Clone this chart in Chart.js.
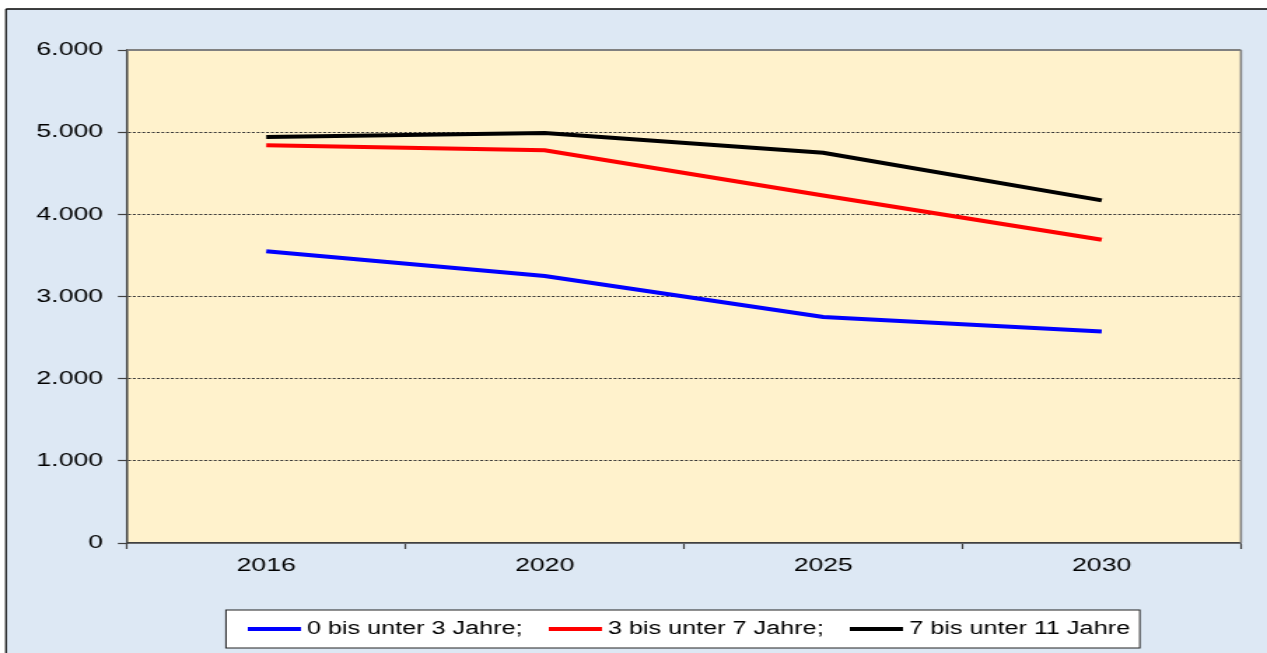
<!DOCTYPE html>
<html>
<head>
<meta charset="utf-8">
<script src="https://cdn.jsdelivr.net/npm/chart.js@4.4.1/dist/chart.umd.min.js"></script>
<style>
  html, body { margin: 0; padding: 0; background: #ffffff; overflow: hidden; }
  #wrap { position: absolute; left: 0; top: 0; width: 905px; height: 653px; transform: scaleX(1.4); transform-origin: 0 0; }
  canvas { display: block; }
</style>
</head>
<body>
<div id="wrap"><canvas id="c" width="905" height="653"></canvas></div>
<script>
// ---- data ----
const categories = ['2016', '2020', '2025', '2030'];
const seriesNames = ['0 bis unter 3 Jahre;', '3 bis unter 7 Jahre;', '7 bis unter 11 Jahre'];
const age0to3 = [3550, 3250, 2750, 2575];
const age3to7 = [4840, 4780, 4230, 3690];
const age7to11 = [4940, 4990, 4750, 4170];
const yTickLabels = ['0', '1.000', '2.000', '3.000', '4.000', '5.000', '6.000'];

// ---- layout constants (canvas is stretched horizontally by S) ----
const S = 1.4;
const FONT = '"Liberation Sans", Arial, sans-serif';
const colors = ['#0000ff', '#ff0000', '#000000'];

function lineImage(color) {
  const c = document.createElement('canvas');
  c.width = 38; c.height = 4;
  const g = c.getContext('2d');
  g.fillStyle = color; g.fillRect(0, 0, 38, 4);
  return c;
}
const legendImgs = colors.map(lineImage);

const framePlugin = {
  id: 'frame',
  afterLayout(chart) {
    const lg = chart.legend;
    if (lg) { lg.left = 158.2; lg.right = chart.width; lg.width = lg.right - lg.left; }
  },
  beforeDraw(chart) {
    const { ctx, chartArea: a } = chart;
    ctx.save();
    ctx.fillStyle = '#ffffff';
    ctx.fillRect(0, 0, chart.width, chart.height);
    const ox = 6 / S, oy = 9;
    ctx.fillStyle = '#dde8f4';
    ctx.fillRect(ox, oy, chart.width - ox, chart.height - oy);
    ctx.strokeStyle = '#000000';
    ctx.lineWidth = 1.5;
    ctx.beginPath(); ctx.moveTo(ox, oy); ctx.lineTo(chart.width, oy); ctx.stroke();
    ctx.lineWidth = 1.2;
    ctx.beginPath(); ctx.moveTo(ox, oy); ctx.lineTo(ox, chart.height); ctx.stroke();
    ctx.fillStyle = '#fff2cc';
    ctx.fillRect(a.left, a.top, a.right - a.left, a.bottom - a.top);
    const lg = chart.legend;
    if (lg && lg.legendHitBoxes && lg.legendHitBoxes.length) {
      const hb = lg.legendHitBoxes;
      const first = hb[0], last = hb[hb.length - 1];
      const cy = first.top + first.height / 2;
      const x1 = first.left - 20.3, x2 = last.left + last.width + 7;
      ctx.fillStyle = '#ffffff';
      ctx.fillRect(x1, cy - 19, x2 - x1, 38);
      ctx.strokeStyle = '#222222';
      ctx.lineWidth = 1;
      ctx.strokeRect(x1, cy - 19, x2 - x1, 38);
    }
    ctx.restore();
  },
  afterDraw(chart) {
    const { ctx, chartArea: a } = chart;
    ctx.save();
    ctx.strokeStyle = '#808080';
    ctx.lineWidth = 2;
    ctx.beginPath(); ctx.moveTo(a.left, a.top); ctx.lineTo(a.right, a.top); ctx.stroke();
    ctx.lineWidth = 2.2 / S;
    ctx.beginPath(); ctx.moveTo(a.right, a.top); ctx.lineTo(a.right, a.bottom); ctx.stroke();
    ctx.restore();
  }
};

const seriesValues = [age0to3, age3to7, age7to11];

new Chart(document.getElementById('c'), {
  type: 'line',
  data: {
    labels: categories,
    datasets: seriesValues.map((vals, i) => ({
      label: seriesNames[i],
      data: vals,
      borderColor: colors[i],
      backgroundColor: colors[i],
      borderWidth: 4,
      pointRadius: 0,
      pointHoverRadius: 0,
      tension: 0,
      fill: false
    }))
  },
  options: {
    responsive: false,
    animation: false,
    devicePixelRatio: 1,
    layout: { padding: { top: 50, right: 18.6, bottom: 5, left: 0 } },
    plugins: {
      tooltip: { enabled: false },
      legend: {
        display: true,
        position: 'bottom',
        align: 'start',
        labels: {
          usePointStyle: true,
          pointStyleWidth: 28.5,
          padding: 23.5,
          color: '#000000',
          font: { family: FONT, size: 18 },
          generateLabels(chart) {
            const items = Chart.defaults.plugins.legend.labels.generateLabels(chart);
            items.forEach((it, i) => { it.pointStyle = legendImgs[i]; });
            return items;
          }
        }
      }
    },
    scales: {
      x: {
        type: 'category',
        offset: true,
        afterFit(scale) { scale.height = 53.5; },
        grid: {
          offset: true,
          drawOnChartArea: false,
          drawTicks: true,
          tickLength: 6,
          tickColor: '#404040',
          tickWidth: 1.2
        },
        border: { display: true, color: '#404040', width: 1.8 },
        ticks: {
          color: '#000000',
          padding: 5,
          maxRotation: 0,
          font: { family: FONT, size: 19 }
        }
      },
      y: {
        min: 0,
        max: 6000,
        afterFit(scale) { scale.width = 90.7; },
        grid: {
          color: (ctx) => (ctx.tick && (ctx.tick.value === 0 || ctx.tick.value === 6000)) ? 'rgba(0,0,0,0)' : '#333333',
          lineWidth: 1,
          tickLength: 6.5,
          tickColor: '#404040',
          tickWidth: 1.2
        },
        border: { display: true, color: '#404040', width: 1.5, dash: [2, 1.4] },
        ticks: {
          stepSize: 1000,
          color: '#000000',
          padding: 10.6,
          font: { family: FONT, size: 19 },
          callback: (v) => yTickLabels[Math.round(v / 1000)]
        }
      }
    }
  },
  plugins: [framePlugin]
});
</script>
</body>
</html>
